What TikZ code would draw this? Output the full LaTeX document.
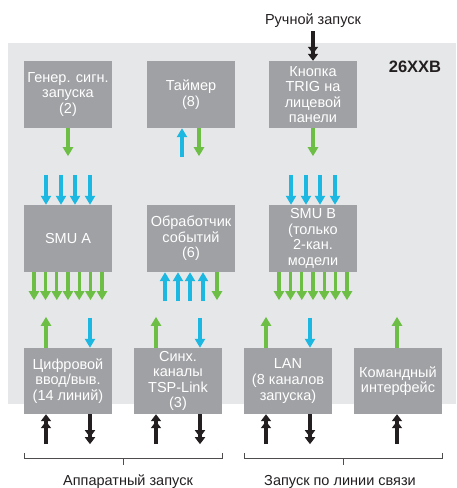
\documentclass[tikz,border=0pt]{standalone}
\usepackage{fontspec}
\setmainfont{Liberation Sans}
\usetikzlibrary{arrows.meta}
\definecolor{bglight}{HTML}{E6E7E8}
\definecolor{boxgray}{HTML}{A0A1A4}
\definecolor{tgreen}{HTML}{6CBE45}
\definecolor{tcyan}{HTML}{1DB8E2}
\definecolor{tblack}{HTML}{231F20}
\tikzset{
  blk/.style={fill=boxgray, draw=none, minimum width=88pt, minimum height=67pt, inner sep=0pt,
    text=white, align=center, font=\fontsize{14.5}{15.6}\selectfont},
  garr/.style={draw=tgreen, line width=3.2pt, -{Triangle[width=10pt,length=9pt]}, tgreen},
  carr/.style={draw=tcyan, line width=3.2pt, -{Triangle[width=10pt,length=9pt]}, tcyan},
  karr/.style={draw=tblack, line width=3.2pt, -{Triangle[width=10pt,length=7pt]Triangle[width=10pt,length=7pt]}, tblack},
  lbl/.style={font=\fontsize{14.5}{16}\selectfont, text=tblack, inner sep=0pt},
  brk/.style={draw=tblack!80, line width=1pt}
}
\begin{document}
\begin{tikzpicture}[x=1pt,y=-1pt]
\useasboundingbox (0,0) rectangle (456,488);
\fill[bglight] (8,43) rectangle (456,404);

% row 1
\node[blk] (gen) at (68,94.5) {Генер. сигн.\\запуска\\(2)};
\node[blk] (timer) at (191,94.5) {Таймер\\(8)};
\node[blk] (trig) at (313,94.5) {Кнопка\\TRIG на\\лицевой\\панели};
% row 2
\node[blk] (smua) at (68,238.5) {SMU A};
\node[blk] (evt) at (191,238.5) {Обработчик\\событий\\(6)};
\node[blk] (smub) at (313,238.5) {SMU B\\(только\\2-кан.\\модели};
% row 3
\node[blk, minimum height=66pt] (dio) at (68,381) {Цифровой\\ввод/выв.\\(14 линий)};
\node[blk, minimum height=66pt] (tsp) at (178,381) {Синх.\\каналы\\TSP-Link\\(3)};
\node[blk, minimum height=66pt] (lan) at (288,381) {LAN\\(8 каналов\\запуска)};
\node[blk, minimum height=66pt] (cmd) at (398,381) {Командный\\интерфейс};

% labels
\node[lbl, anchor=base] (manual) at (313,24.5) {Ручной запуск};
\node[lbl, anchor=base, font=\fontsize{16.5}{18}\selectfont\bfseries] (model) at (415,72.7) {26XXB};
\node[lbl, anchor=base] (hw) at (128,485) {Аппаратный запуск};
\node[lbl, anchor=base] (comm) at (340,485) {Запуск по линии связи};

% manual trigger
\coordinate (mtop) at (313,31);
\draw[karr] (mtop) -- (trig.north);

% row 1 outputs
\draw[garr] (gen.south) -- ++(0,28);
\draw[carr] ([xshift=-9pt,yshift=-29pt]timer.south) -- ([xshift=-9pt]timer.south);
\draw[garr] ([xshift=8pt]timer.south) -- ++(0,28);
\draw[garr] (trig.south) -- ++(0,28);

% SMU inputs
\foreach \dx in {-22,-7,7,22}{
  \draw[carr] ([xshift=\dx pt,yshift=30pt]smua.north) -- ([xshift=\dx pt]smua.north);
  \draw[carr] ([xshift=\dx pt,yshift=30pt]smub.north) -- ([xshift=\dx pt]smub.north);
}
% SMU outputs
\foreach \dx in {-34,-22.5,-11.2,0,11.2,22.5,34}{
  \draw[garr] ([xshift=\dx pt]smua.south) -- ++(0,28);
  \draw[garr] ([xshift=\dx pt]smub.south) -- ++(0,28);
}
% event handler
\foreach \dx in {-26,-13,-1,12}{
  \draw[carr] ([xshift=\dx pt,yshift=-29pt]evt.south) -- ([xshift=\dx pt]evt.south);
}
\draw[garr] ([xshift=26pt]evt.south) -- ++(0,28);

% row 3 inputs/outputs (top)
\foreach \n in {dio,tsp,lan}{
  \draw[garr] ([xshift=-22pt]\n.north) -- ++(0,-31);
  \draw[carr] ([xshift=22pt,yshift=30pt]\n.north) -- ([xshift=22pt]\n.north);
}
\draw[garr] ([xshift=-1pt]cmd.north) -- ++(0,-31);

% row 3 bottom (black)
\foreach \n in {dio,tsp,lan}{
  \draw[karr] ([xshift=-22pt,yshift=-30pt]\n.south) -- ([xshift=-22pt]\n.south);
  \draw[karr] ([xshift=22pt]\n.south) -- ++(0,30);
}
\draw[karr] ([xshift=-1pt,yshift=-30pt]cmd.south) -- ([xshift=-1pt]cmd.south);

% brackets
\draw[brk] (24,453) -- (24,458) -- (222,458) -- (222,453);
\draw[brk] (123,458) -- (123,465);
\draw[brk] (244,453) -- (244,458) -- (442,458) -- (442,453);
\draw[brk] (343,458) -- (343,465);
\end{tikzpicture}
\end{document}
